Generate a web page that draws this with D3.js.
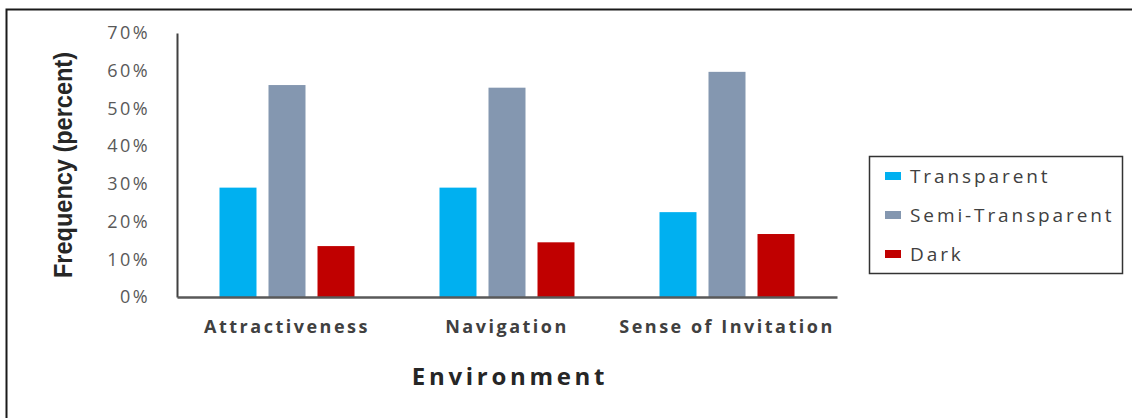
<!DOCTYPE html>
<html>
<head>
<meta charset="utf-8">
<script src="https://cdn.jsdelivr.net/npm/d3@7"></script>
<style>
  body { margin: 0; background: #fff; }
  text { font-family: "Open Sans", sans-serif; }
</style>
</head>
<body>
<svg id="chart" width="1132" height="418"></svg>
<script>
    // data
    let categories = ['Attractiveness', 'Navigation', 'Sense of Invitation'],
        seriesNames = ['Transparent', 'Semi-Transparent', 'Dark'],
        transparent = [0.29, 0.29, 0.225],
        semiTransparent = [0.562, 0.555, 0.597],
        dark = [0.135, 0.145, 0.167],
        yTicks = [0, 0.1, 0.2, 0.3, 0.4, 0.5, 0.6, 0.7],
        colours = ['#00b0f0', '#8497b0', '#c00000'];

    let values = [transparent, semiTransparent, dark];

    let svg = d3.select('#chart');

    // outer frame (top and left only show in the picture)
    svg.append('path')
        .attr('d', 'M6.5,418 V9.5 H1132')
        .attr('fill', 'none')
        .attr('stroke', '#1a1a1a')
        .attr('stroke-width', 2);

    let x0 = d3.scaleBand().domain(categories).range([177, 837]),
        x1 = d3.scaleBand().domain(seriesNames).range([0, 135]).paddingInner(0.245),
        y = d3.scaleLinear().domain([0, 0.7]).range([297, 33]);

    // bars
    let g = svg.append('g');
    categories.forEach((c, i) => {
        seriesNames.forEach((s, j) => {
            g.append('rect')
                .attr('x', x0(c) + (x0.bandwidth() - 135) / 2 + x1(s))
                .attr('y', y(values[j][i]))
                .attr('width', x1.bandwidth())
                .attr('height', y(0) - y(values[j][i]))
                .attr('fill', colours[j]);
        });
    });

    // y axis
    let yAxis = svg.append('g')
        .attr('transform', 'translate(177,0)')
        .call(d3.axisLeft(y).tickValues(yTicks).tickSize(0).tickPadding(27)
            .tickFormat(d3.format('.0%')));
    yAxis.select('.domain').attr('stroke', '#404040').attr('stroke-width', 2);
    yAxis.selectAll('text')
        .attr('fill', '#595959')
        .style('font-size', '18px')
        .style('letter-spacing', '2.4px');

    // x axis
    let xAxis = svg.append('g')
        .attr('transform', 'translate(0,297)')
        .call(d3.axisBottom(x0).tickSize(0).tickPadding(23));
    xAxis.select('.domain').attr('stroke', '#595959').attr('stroke-width', 2.5);
    xAxis.selectAll('text')
        .attr('fill', '#404040')
        .style('font-size', '18px')
        .style('font-weight', 'bold')
        .style('letter-spacing', '2.5px');

    // axis titles
    svg.append('text')
        .attr('x', 510).attr('y', 385)
        .attr('text-anchor', 'middle')
        .attr('fill', '#262626')
        .style('font-size', '24px')
        .style('font-weight', 'bold')
        .style('letter-spacing', '3.7px')
        .text('Environment');

    svg.append('text')
        .attr('transform', 'translate(72,165) rotate(-90)')
        .attr('text-anchor', 'middle')
        .attr('fill', '#262626')
        .attr('textLength', 226)
        .attr('lengthAdjust', 'spacingAndGlyphs')
        .style('font-family', '"Liberation Sans Narrow", "Liberation Sans", sans-serif')
        .style('font-size', '25px')
        .style('font-weight', 'bold')
        .text('Frequency (percent)');

    // legend
    let legend = svg.append('g');
    legend.append('rect')
        .attr('x', 869.5).attr('y', 156.5)
        .attr('width', 253).attr('height', 117)
        .attr('fill', '#fff')
        .attr('stroke', '#333')
        .attr('stroke-width', 1.5);
    seriesNames.forEach((s, j) => {
        let ly = 176 + j * 39;
        legend.append('rect')
            .attr('x', 885).attr('y', ly - 4)
            .attr('width', 16).attr('height', 8)
            .attr('fill', colours[j]);
        legend.append('text')
            .attr('x', 910).attr('y', ly + 7)
            .attr('fill', '#404040')
            .style('font-size', '19px')
            .style('letter-spacing', '2.9px')
            .text(s);
    });
</script>
</body>
</html>
